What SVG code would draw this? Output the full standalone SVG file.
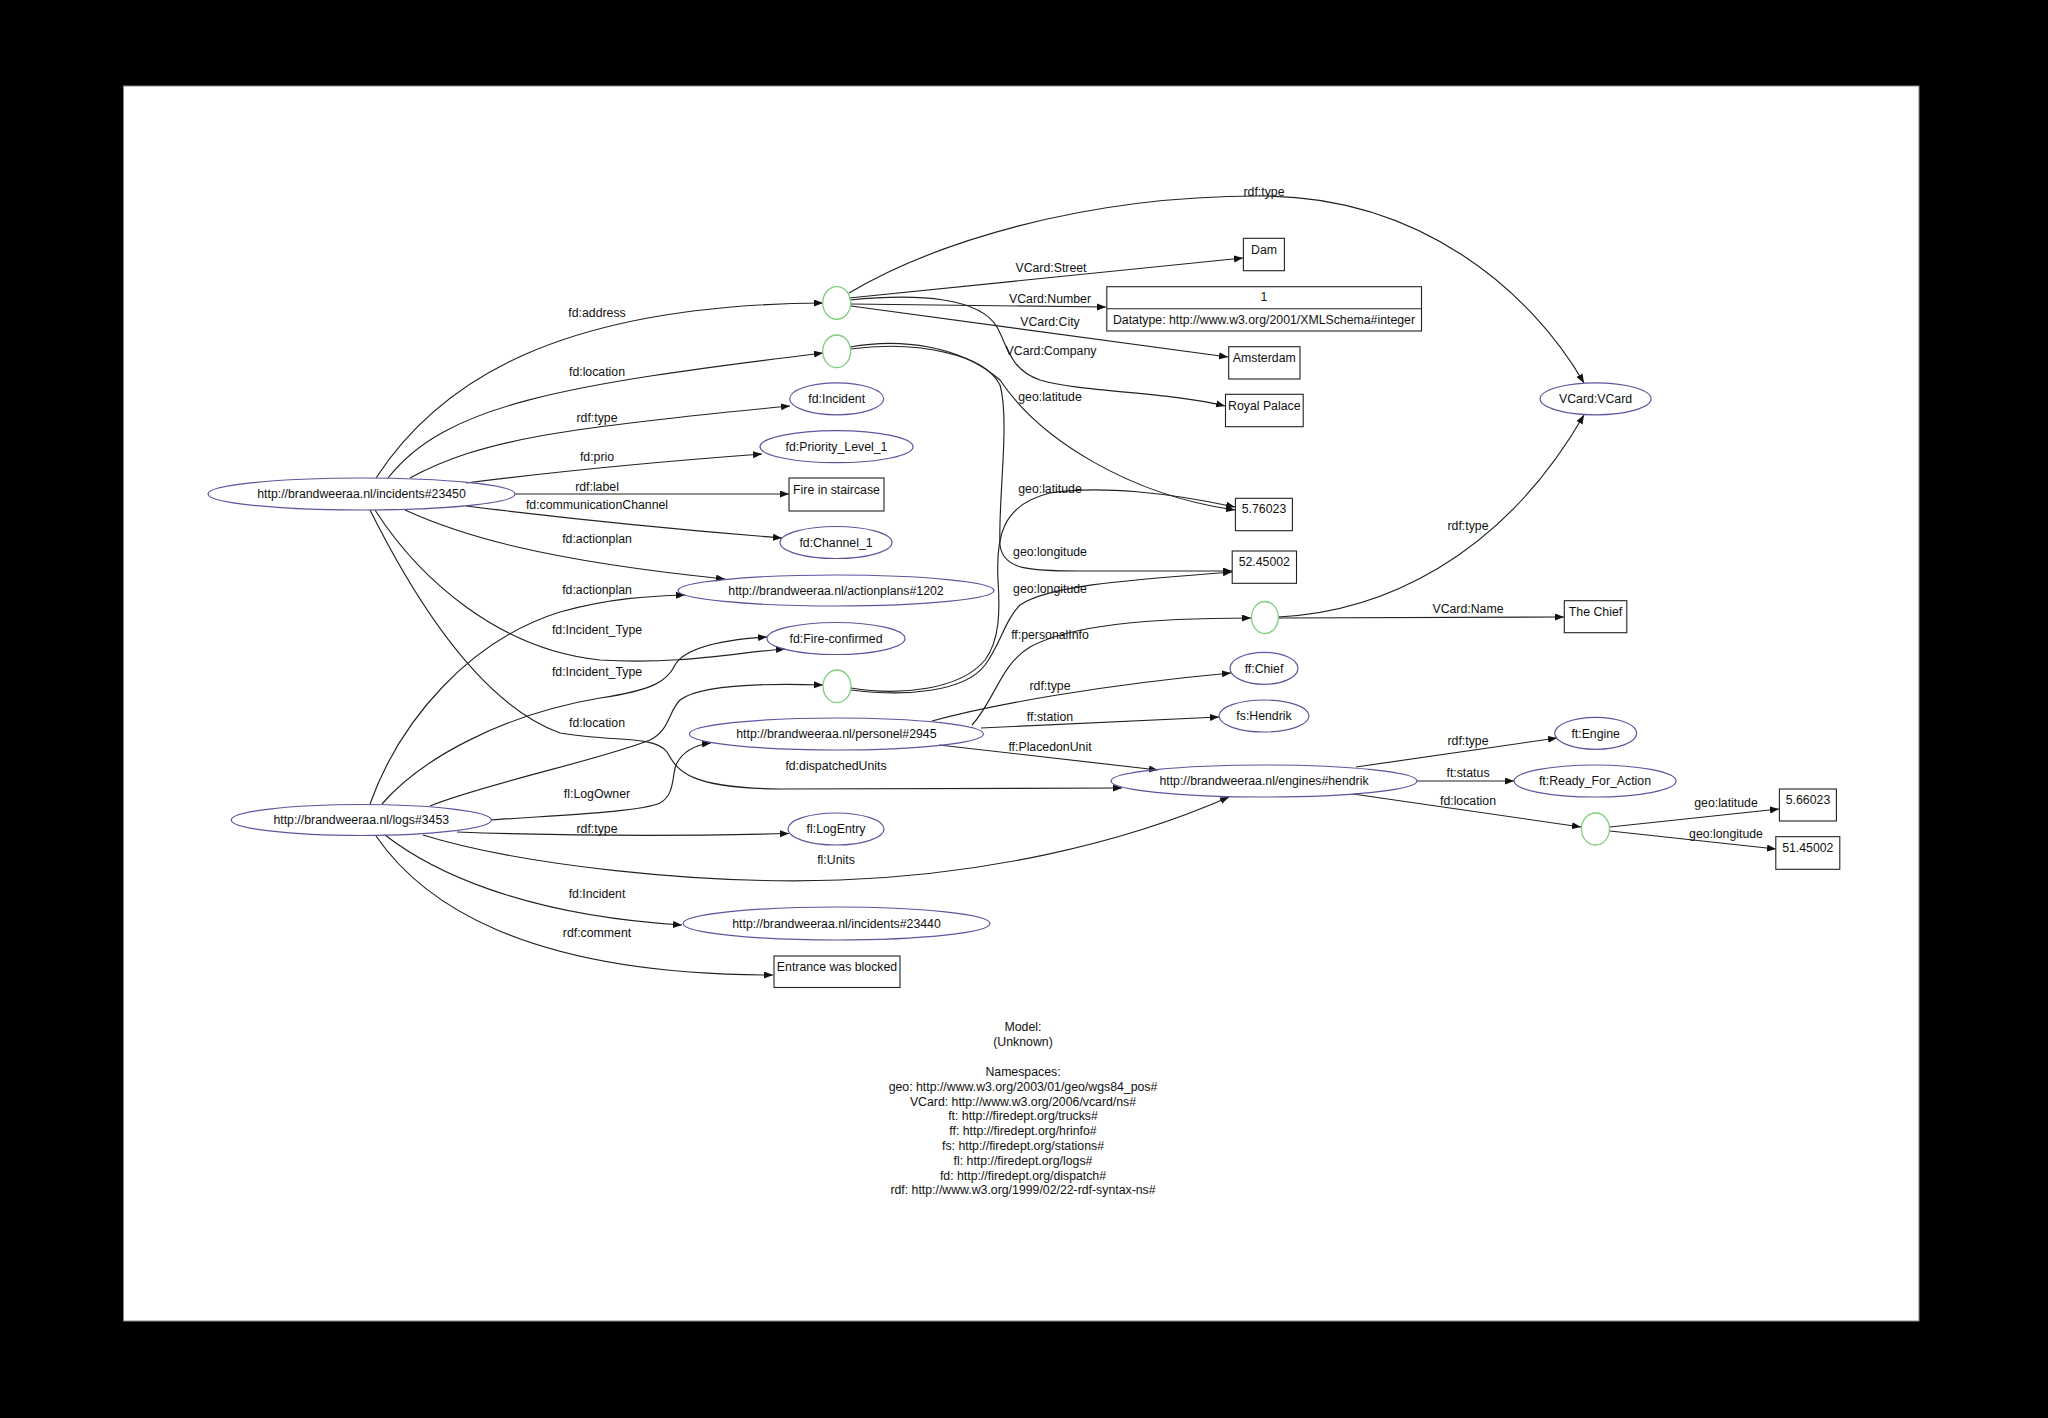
<svg xmlns="http://www.w3.org/2000/svg" width="2048" height="1418" viewBox="0 0 2048 1418">
<style>
.bg{fill:#000}
.page{fill:#fff;stroke:#888;stroke-width:1}
.ne{fill:none;stroke:#5d569e;stroke-width:1.2}
.nb{fill:none;stroke:#7fcf7f;stroke-width:1.3}
.nr{fill:#fff;stroke:#222;stroke-width:1.1}
text{font-family:"Liberation Sans",Arial,sans-serif;font-size:12.3px;fill:#111;text-anchor:middle}
.e path{fill:none;stroke:#222;stroke-width:1.15}
</style>
<defs>
<marker id="ah" markerUnits="userSpaceOnUse" markerWidth="10" markerHeight="8" refX="9" refY="3.5" orient="auto">
<path d="M0,0 L9,3.5 L0,7 z" fill="#111"/>
</marker>
</defs>
<rect class="bg" x="0" y="0" width="2048" height="1418"/>
<rect class="page" x="123.5" y="86" width="1795.5" height="1235"/>

<g id="connectors" class="e">
<g id="e-address"><path d="M376,478 C440,380 560,305 823,303" marker-end="url(#ah)"/><text x="597" y="317">fd:address</text></g>
<g id="e-location1"><path d="M388,478 C445,405 560,385 823,353" marker-end="url(#ah)"/><text x="597" y="376">fd:location</text></g>
<g id="e-type1"><path d="M410,478 C480,440 560,428 790,406" marker-end="url(#ah)"/><text x="597" y="422">rdf:type</text></g>
<g id="e-prio"><path d="M466,483 Q600,466 762,454" marker-end="url(#ah)"/><text x="597" y="461">fd:prio</text></g>
<g id="e-label"><path d="M515,494 L789,494" marker-end="url(#ah)"/><text x="597" y="491">rdf:label</text></g>
<g id="e-channel"><path d="M466,506 Q620,525 782,538" marker-end="url(#ah)"/><text x="597" y="509">fd:communicationChannel</text></g>
<g id="e-actionplan1"><path d="M405,510 C460,535 540,560 725,579" marker-end="url(#ah)"/><text x="597" y="543">fd:actionplan</text></g>
<g id="e-itype1"><path d="M375,510 C420,580 500,650 600,660 C680,665 740,652 785,649" marker-end="url(#ah)"/><text x="597" y="634">fd:Incident_Type</text></g>
<g id="e-dispatched"><path d="M370,510 C400,570 470,700 560,733 C610,742 655,735 667,752 C678,772 690,788 780,789 L1122,788" marker-end="url(#ah)"/><text x="836" y="770">fd:dispatchedUnits</text></g>
<g id="e-actionplan2"><path d="M370,804 C400,720 470,640 560,612 C610,598 650,596 685,595" marker-end="url(#ah)"/><text x="597" y="594">fd:actionplan</text></g>
<g id="e-itype2"><path d="M382,804 C420,760 500,715 600,698 C655,690 668,680 675,665 C685,648 720,640 767,637" marker-end="url(#ah)"/><text x="597" y="676">fd:Incident_Type</text></g>
<g id="e-location2"><path d="M430,806 C480,785 600,760 650,740 C670,730 668,712 680,700 C700,685 760,683 823,685" marker-end="url(#ah)"/><text x="597" y="727">fd:location</text></g>
<g id="e-logowner"><path d="M491,820 C560,815 640,812 660,803 C675,795 672,775 676,765 C682,752 695,745 711,743" marker-end="url(#ah)"/><text x="597" y="798">fl:LogOwner</text></g>
<g id="e-type2"><path d="M457,832 Q620,838 789,833.5" marker-end="url(#ah)"/><text x="597" y="833">rdf:type</text></g>
<g id="e-units"><path d="M423,835 C520,865 700,885 840,880 C980,875 1120,845 1229,797" marker-end="url(#ah)"/><text x="836" y="864">fl:Units</text></g>
<g id="e-incident"><path d="M385,835 C430,870 520,915 682,925" marker-end="url(#ah)"/><text x="597" y="898">fd:Incident</text></g>
<g id="e-comment"><path d="M376,836 C420,900 520,975 773,975" marker-end="url(#ah)"/><text x="597" y="937">rdf:comment</text></g>
<g id="e-type3"><path d="M849,293 C930,245 1080,195 1264,196 C1420,197 1530,290 1584,383" marker-end="url(#ah)"/><text x="1264" y="196">rdf:type</text></g>
<g id="e-street"><path d="M849,298 L1243,258" marker-end="url(#ah)"/><text x="1051" y="272">VCard:Street</text></g>
<g id="e-number"><path d="M851,304 L1106,307" marker-end="url(#ah)"/><text x="1050" y="303">VCard:Number</text></g>
<g id="e-city"><path d="M851,306 L1228,357" marker-end="url(#ah)"/><text x="1050" y="326">VCard:City</text></g>
<g id="e-company"><path d="M850,300 C920,293 980,298 997,327 C1007,345 1010,370 1040,380 C1080,392 1170,392 1225,406" marker-end="url(#ah)"/><text x="1051" y="355">VCard:Company</text></g>
<g id="e-lat1"><path d="M850,347 C900,338 960,345 1000,380 C1040,440 1130,495 1235,510" marker-end="url(#ah)"/><text x="1050" y="401">geo:latitude</text></g>
<g id="e-long1"><path d="M850,349 C920,340 985,355 1000,385 C1010,420 998,500 1000,545 C1003,570 1030,571 1080,571 L1232,571" marker-end="url(#ah)"/><text x="1050" y="556">geo:longitude</text></g>
<g id="e-lat2"><path d="M851,688 C900,696 960,690 985,660 C1000,640 1000,610 998,580 C996,540 1000,505 1050,493 C1100,485 1170,493 1235,507" marker-end="url(#ah)"/><text x="1050" y="493">geo:latitude</text></g>
<g id="e-long2"><path d="M851,690 C905,697 965,692 985,665 C1000,645 1005,620 1020,605 C1050,585 1130,580 1232,572" marker-end="url(#ah)"/><text x="1050" y="593">geo:longitude</text></g>
<g id="e-personal"><path d="M972,725 C995,700 1000,665 1030,647 C1070,625 1150,618 1251,618" marker-end="url(#ah)"/><text x="1050" y="639">ff:personalInfo</text></g>
<g id="e-type4"><path d="M932,721 C990,705 1100,685 1231,673" marker-end="url(#ah)"/><text x="1050" y="690">rdf:type</text></g>
<g id="e-station"><path d="M981,728 L1219,717" marker-end="url(#ah)"/><text x="1050" y="721">ff:station</text></g>
<g id="e-placed"><path d="M939,745 L1158,770" marker-end="url(#ah)"/><text x="1050" y="751">ff:PlacedonUnit</text></g>
<g id="e-type5"><path d="M1278,617 C1380,612 1500,560 1584,415" marker-end="url(#ah)"/><text x="1468" y="530">rdf:type</text></g>
<g id="e-name"><path d="M1279,618 L1564,617" marker-end="url(#ah)"/><text x="1468" y="613">VCard:Name</text></g>
<g id="e-type6"><path d="M1356,767 L1557,738" marker-end="url(#ah)"/><text x="1468" y="745">rdf:type</text></g>
<g id="e-status"><path d="M1417,781 L1514,781" marker-end="url(#ah)"/><text x="1468" y="777">ft:status</text></g>
<g id="e-location3"><path d="M1353,794 L1581,827" marker-end="url(#ah)"/><text x="1468" y="805">fd:location</text></g>
<g id="e-lat3"><path d="M1610,827 L1779,809" marker-end="url(#ah)"/><text x="1726" y="807">geo:latitude</text></g>
<g id="e-long3"><path d="M1610,831 L1776,849" marker-end="url(#ah)"/><text x="1726" y="838">geo:longitude</text></g>
</g>

<g id="n-inc23450"><ellipse class="ne" cx="361.5" cy="494" rx="153.5" ry="16"/><text x="361.5" y="498">http://brandweeraa.nl/incidents#23450</text></g>
<g id="n-logs3453"><ellipse class="ne" cx="361.3" cy="820" rx="130" ry="15.5"/><text x="361.3" y="824">http://brandweeraa.nl/logs#3453</text></g>
<g id="n-blank1"><ellipse class="nb" cx="836.7" cy="303" rx="14" ry="16.3"/></g>
<g id="n-blank2"><ellipse class="nb" cx="836.7" cy="351.3" rx="14" ry="16.3"/></g>
<g id="n-fdincident"><ellipse class="ne" cx="836.7" cy="398.8" rx="47" ry="16"/><text x="836.7" y="403">fd:Incident</text></g>
<g id="n-priority"><ellipse class="ne" cx="836.5" cy="446.7" rx="76.5" ry="16"/><text x="836.5" y="451">fd:Priority_Level_1</text></g>
<g id="n-fire"><rect class="nr" x="789" y="478" width="95" height="33"/><text x="836.5" y="494">Fire in staircase</text></g>
<g id="n-channel"><ellipse class="ne" cx="836" cy="542.5" rx="56" ry="16"/><text x="836" y="547">fd:Channel_1</text></g>
<g id="n-actionplans"><ellipse class="ne" cx="836" cy="590.5" rx="158" ry="15.5"/><text x="836" y="595">http://brandweeraa.nl/actionplans#1202</text></g>
<g id="n-fireconfirmed"><ellipse class="ne" cx="836" cy="638.5" rx="69" ry="16"/><text x="836" y="643">fd:Fire-confirmed</text></g>
<g id="n-blank3"><ellipse class="nb" cx="837" cy="686.3" rx="14" ry="16.3"/></g>
<g id="n-personel"><ellipse class="ne" cx="836.4" cy="734" rx="147" ry="16"/><text x="836.4" y="738">http://brandweeraa.nl/personel#2945</text></g>
<g id="n-logentry"><ellipse class="ne" cx="836" cy="829" rx="48" ry="16"/><text x="836" y="833">fl:LogEntry</text></g>
<g id="n-inc23440"><ellipse class="ne" cx="836.5" cy="923.5" rx="153.5" ry="16.5"/><text x="836.5" y="928">http://brandweeraa.nl/incidents#23440</text></g>
<g id="n-entrance"><rect class="nr" x="774" y="956" width="126" height="31.5"/><text x="837" y="971">Entrance was blocked</text></g>
<g id="n-dam"><rect class="nr" x="1243.4" y="238.3" width="41" height="32.4"/><text x="1264" y="253.5">Dam</text></g>
<g id="n-number"><rect class="nr" x="1106.8" y="286.7" width="314.7" height="44.3"/><line x1="1106.8" y1="308.7" x2="1421.5" y2="308.7" stroke="#222" stroke-width="1.1"/><text x="1264" y="301">1</text><text x="1264" y="323.5">Datatype: http://www.w3.org/2001/XMLSchema#integer</text></g>
<g id="n-amsterdam"><rect class="nr" x="1228.7" y="346.7" width="71.3" height="32.3"/><text x="1264.3" y="362">Amsterdam</text></g>
<g id="n-royal"><rect class="nr" x="1225.5" y="394.3" width="77.7" height="32.4"/><text x="1264.3" y="409.5">Royal Palace</text></g>
<g id="n-lat1"><rect class="nr" x="1235.4" y="498.3" width="57" height="32.4"/><text x="1264" y="512.5">5.76023</text></g>
<g id="n-long1"><rect class="nr" x="1232.2" y="551" width="64.3" height="32.3"/><text x="1264.3" y="566">52.45002</text></g>
<g id="n-blank4"><ellipse class="nb" cx="1264.9" cy="617.5" rx="13.4" ry="16"/></g>
<g id="n-chief"><ellipse class="ne" cx="1264" cy="668.3" rx="34" ry="16"/><text x="1264" y="672.5">ff:Chief</text></g>
<g id="n-hendrik"><ellipse class="ne" cx="1264" cy="716" rx="45" ry="16"/><text x="1264" y="720">fs:Hendrik</text></g>
<g id="n-engines"><ellipse class="ne" cx="1264" cy="781" rx="153" ry="16"/><text x="1264" y="785">http://brandweeraa.nl/engines#hendrik</text></g>
<g id="n-vcard"><ellipse class="ne" cx="1595.6" cy="398.8" rx="55.5" ry="16"/><text x="1595.6" y="403">VCard:VCard</text></g>
<g id="n-thechief"><rect class="nr" x="1564.3" y="600.7" width="62.5" height="32"/><text x="1595.5" y="616">The Chief</text></g>
<g id="n-engine"><ellipse class="ne" cx="1595.7" cy="733.3" rx="41" ry="16"/><text x="1595.7" y="737.5">ft:Engine</text></g>
<g id="n-ready"><ellipse class="ne" cx="1595" cy="781" rx="81" ry="16"/><text x="1595" y="785">ft:Ready_For_Action</text></g>
<g id="n-blank5"><ellipse class="nb" cx="1595.5" cy="829" rx="14" ry="16"/></g>
<g id="n-lat2"><rect class="nr" x="1779.4" y="789" width="57" height="32"/><text x="1808" y="803.5">5.66023</text></g>
<g id="n-long2"><rect class="nr" x="1775.8" y="836.7" width="64" height="32.6"/><text x="1807.8" y="851.5">51.45002</text></g>

<g id="legend">
<text x="1023" y="1031">Model:</text>
<text x="1023" y="1046">(Unknown)</text>
<text x="1023" y="1076">Namespaces:</text>
<text x="1023" y="1090.8">geo: http://www.w3.org/2003/01/geo/wgs84_pos#</text>
<text x="1023" y="1105.6">VCard: http://www.w3.org/2006/vcard/ns#</text>
<text x="1023" y="1120.4">ft: http://firedept.org/trucks#</text>
<text x="1023" y="1135.2">ff: http://firedept.org/hrinfo#</text>
<text x="1023" y="1150">fs: http://firedept.org/stations#</text>
<text x="1023" y="1164.8">fl: http://firedept.org/logs#</text>
<text x="1023" y="1179.6">fd: http://firedept.org/dispatch#</text>
<text x="1023" y="1194.4">rdf: http://www.w3.org/1999/02/22-rdf-syntax-ns#</text>
</g>
</svg>
